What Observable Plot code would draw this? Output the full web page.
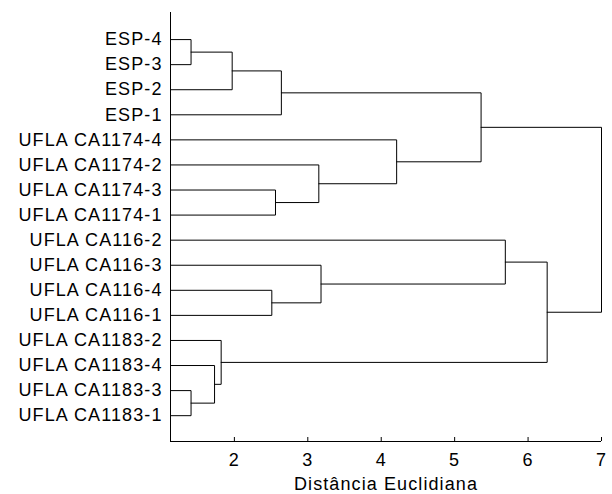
<!DOCTYPE html>
<html>
<head>
<meta charset="utf-8">
<script src="https://cdn.jsdelivr.net/npm/d3@7"></script>
<script src="https://cdn.jsdelivr.net/npm/@observablehq/plot@0.6"></script>
<style>
  html, body { margin: 0; padding: 0; background: white; }
</style>
</head>
<body>
<div id="chart"></div>
<script>
// Leaves, top to bottom
const leafLabels = [
  "ESP-4", "ESP-3", "ESP-2", "ESP-1",
  "UFLA CA1174-4", "UFLA CA1174-2", "UFLA CA1174-3", "UFLA CA1174-1",
  "UFLA CA116-2", "UFLA CA116-3", "UFLA CA116-4", "UFLA CA116-1",
  "UFLA CA1183-2", "UFLA CA1183-4", "UFLA CA1183-3", "UFLA CA1183-1"
];
// Merges (cluster ids c1..c15)
const mergeA = ["ESP-4", "c1", "c2", "UFLA CA1174-3", "UFLA CA1174-2", "UFLA CA1174-4", "c3",
                "UFLA CA116-4", "UFLA CA116-3", "UFLA CA116-2",
                "UFLA CA1183-3", "UFLA CA1183-4", "UFLA CA1183-2", "c10", "c7"];
const mergeB = ["ESP-3", "ESP-2", "ESP-1", "UFLA CA1174-1", "c4", "c5", "c6",
                "UFLA CA116-1", "c8", "c9",
                "UFLA CA1183-1", "c11", "c12", "c13", "c14"];
const mergeHeight = [1.41, 1.97, 2.64, 2.56, 3.15, 4.21, 5.36,
                     2.51, 3.18, 5.69,
                     1.41, 1.73, 1.82, 6.26, 7.0];
const xTicks = [2, 3, 4, 5, 6, 7];
const xDomain = [1.13, 7];
const yDomain = [-1.08, 16.03];

// Build node positions
const nodes = new Map();
leafLabels.forEach((name, i) => nodes.set(name, {y: i, h: xDomain[0]}));
const segments = [];
mergeHeight.forEach((h, i) => {
  const a = nodes.get(mergeA[i]);
  const b = nodes.get(mergeB[i]);
  nodes.set("c" + (i + 1), {y: (a.y + b.y) / 2, h});
  segments.push({id: i, x: a.h, y: a.y});
  segments.push({id: i, x: h, y: a.y});
  segments.push({id: i, x: h, y: b.y});
  segments.push({id: i, x: b.h, y: b.y});
});

const W = 612, H = 494, mT = 12, mB = 53;
const chart = Plot.plot({
  width: W,
  height: H,
  marginLeft: 170,
  marginRight: 11,
  marginTop: mT,
  marginBottom: mB,
  x: {domain: xDomain},
  y: {domain: yDomain, reverse: true},
  style: "font-family: 'Liberation Sans', Arial, sans-serif; font-size: 18px; letter-spacing: 1.1px; color: black; background: white;",
  marks: [
    Plot.axisY({ticks: d3.range(leafLabels.length), tickFormat: i => leafLabels[i], tickSize: 0, tickPadding: 8, label: null}),
    Plot.axisX({ticks: xTicks, tickFormat: d3.format("d"), tickSize: 0, tickPadding: 12, label: "Distância Euclidiana", labelAnchor: "center", labelOffset: 48, labelArrow: "none"}),
    // axis lines (left and bottom)
    Plot.ruleX([xDomain[0]], {stroke: "black"}),
    Plot.ruleY([yDomain[1]], {stroke: "black"}),
    // inward tick marks on the x axis
    Plot.ruleX(xTicks, {stroke: "black", insetTop: H - mT - mB - 4}),
    Plot.line(segments, {x: "x", y: "y", z: "id", stroke: "black", strokeWidth: 1})
  ]
});
document.getElementById("chart").appendChild(chart);
</script>
</body>
</html>
